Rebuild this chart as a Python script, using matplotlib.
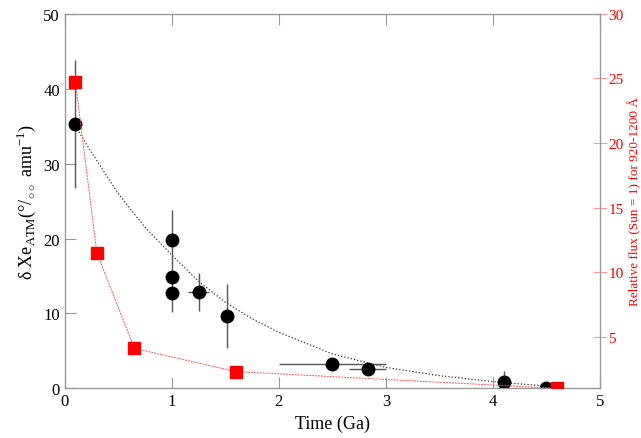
import matplotlib
matplotlib.use("Agg")
import matplotlib.pyplot as plt

plt.rcParams['font.family'] = ['Liberation Serif', 'DejaVu Serif']
plt.rcParams['mathtext.fontset'] = 'custom'
plt.rcParams['mathtext.rm'] = 'Liberation Serif'

xe_t = [0.1, 1.0, 1.0, 1.0, 1.25, 1.52, 2.5, 2.83, 4.1, 4.5]
xe_v = [35.3, 19.8, 14.9, 12.8, 12.9, 9.7, 3.3, 2.6, 0.8, 0.0]
xe_yerr = [8.5, 4.0, 0.0, 2.6, 2.5, 4.3, 0.0, 0.0, 1.5, 0.0]
xe_xerr = [0.0, 0.0, 0.0, 0.0, 0.1, 0.0, 0.5, 0.17, 0.05, 0.0]

fit_t = [0.1, 0.25, 0.5, 0.75, 1.0, 1.25, 1.5, 1.75, 2.0, 2.5, 3.0, 3.5, 4.0, 4.5]
fit_v = [35.0, 31.5, 26.0, 21.5, 17.8, 14.3, 11.5, 9.3, 7.5, 4.6, 2.8, 1.7, 0.9, 0.3]

flux_t = [0.1, 0.3, 0.65, 1.6, 4.6]
flux_v = [24.7, 11.5, 4.1, 2.3, 1.0]

fig = plt.figure(figsize=(6.41, 4.39), dpi=100)
ax = fig.add_axes([0.101, 0.113, 0.835, 0.853])
ax2 = ax.twinx()

ax.plot(fit_t, fit_v, ':', color='#333333', lw=0.9, zorder=2)
ax.errorbar(xe_t, xe_v, yerr=xe_yerr, xerr=xe_xerr, fmt='o', color='black',
            ecolor='#555555', elinewidth=1, ms=9, capsize=0, zorder=3)
ax2.plot(flux_t, flux_v, '--', color='#ff5555', lw=0.7, dashes=(2, 1), zorder=2)
ax2.plot(flux_t, flux_v, 's', color='red', ms=9, zorder=4)

ax.set_xlim(0, 5)
ax.set_ylim(0, 50)
ax2.set_ylim(1, 30)
ax.set_xticks([0, 1, 2, 3, 4, 5])
ax.set_yticks([0, 10, 20, 30, 40, 50])
ax2.set_yticks([5, 10, 15, 20, 25, 30])
for s in ax2.spines.values():
    s.set_color('#999999')
ax.tick_params(axis='both', direction='in', length=8, color='#999999', labelsize=12, top=True)
ax2.tick_params(axis='y', direction='inout', length=10, color='#ff9999', labelcolor='red', labelsize=11, pad=1)
ax.set_xlabel('Time (Ga)', fontsize=13)
ax.set_ylabel(r'δ Xe$_{\mathrm{ATM}}$(°/$_{\circ\circ}$ amu$^{-1}$)', fontsize=13)
fig.text(634.5 / 641, 0.54, 'Relative flux (Sun = 1) for 920-1200 Å', color='red', fontsize=9.5,
         rotation=90, ha='center', va='center')
fig.savefig('out.png', dpi=100)
